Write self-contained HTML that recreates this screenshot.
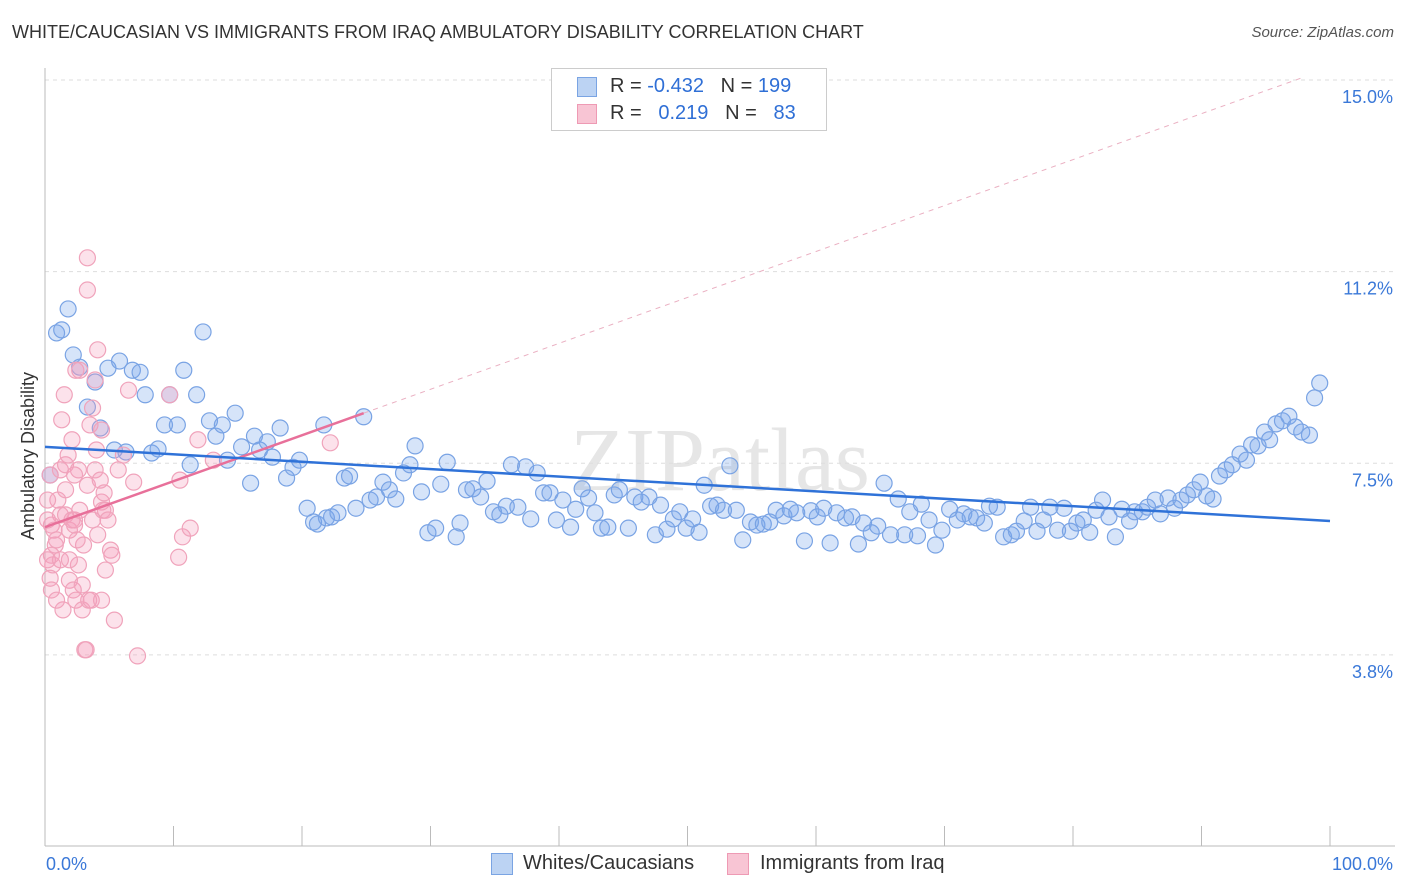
<!DOCTYPE html>
<html><head><meta charset="utf-8"><style>
body{margin:0;background:#fff;font-family:"Liberation Sans",sans-serif;}
#wrap{position:relative;width:1406px;height:892px;overflow:hidden;}
.t{position:absolute;white-space:nowrap;}
</style></head><body>
<div id="wrap">
<div class="t" style="left:12px;top:22px;font-size:18px;color:#333;">WHITE/CAUCASIAN VS IMMIGRANTS FROM IRAQ AMBULATORY DISABILITY CORRELATION CHART</div>
<div class="t" style="right:12px;top:24px;font-size:15px;color:#555;font-style:italic;">Source: ZipAtlas.com</div>
<svg id="svg" width="1406" height="892" style="position:absolute;left:0;top:0"></svg>
<div style="position:absolute;left:551px;top:68px;width:274px;height:61px;border:1px solid #ccc;background:#fff;font-size:20px;">
 <div style="position:absolute;left:25px;top:8px;width:18px;height:18px;background:#bcd3f3;border:1px solid #7aa4e3;"></div>
 <div class="t" style="left:58px;top:6px;color:#333;">R = <span style="color:#2f6fd6">-0.432</span>&nbsp;&nbsp;&nbsp;N = <span style="color:#2f6fd6">199</span></div>
 <div style="position:absolute;left:25px;top:35px;width:18px;height:18px;background:#f8c5d4;border:1px solid #ee9ab4;"></div>
 <div class="t" style="left:58px;top:33px;color:#333;">R = &nbsp;&nbsp;<span style="color:#2f6fd6">0.219</span>&nbsp;&nbsp;&nbsp;N = &nbsp;&nbsp;<span style="color:#2f6fd6">83</span></div>
</div>
<div>
 <div style="position:absolute;left:491px;top:853px;width:20px;height:20px;background:#bcd3f3;border:1px solid #7aa4e3;"></div>
 <div class="t" style="left:523px;top:852px;font-size:20px;color:#333;">Whites/Caucasians</div>
 <div style="position:absolute;left:727px;top:853px;width:20px;height:20px;background:#f8c5d4;border:1px solid #ee9ab4;"></div>
 <div class="t" style="left:760px;top:852px;font-size:20px;color:#333;">Immigrants from Iraq</div>
</div>
</div>
<script>
const yTicks=[15.0,11.25,7.5,3.75];
const yTickLabels=["15.0%","11.2%","7.5%","3.8%"];
const xTickLabels=["0.0%","100.0%"];
const blueX=[0.4,0.9,1.3,1.8,2.2,2.7,3.3,3.9,4.3,4.9,5.4,5.8,6.3,6.8,7.4,7.8,8.3,8.8,9.3,9.7,10.3,10.8,11.3,11.8,12.3,12.8,13.3,13.8,14.2,14.8,15.3,16.0,16.3,16.7,17.3,17.7,18.3,18.8,19.3,19.8,20.4,20.9,21.2,21.9,22.3,22.8,21.7,23.3,23.7,24.2,24.8,25.3,25.8,26.3,26.8,27.3,27.9,28.4,28.8,29.3,29.8,30.4,30.8,31.3,32.0,32.3,32.8,33.3,33.9,34.4,34.9,35.4,35.9,36.3,36.8,37.4,37.8,38.3,38.8,39.3,39.8,40.3,40.9,41.3,41.8,42.3,42.8,43.3,43.8,44.3,44.7,45.4,45.9,46.4,47.0,47.5,47.9,48.4,48.9,49.4,49.9,50.4,50.9,51.3,51.8,52.3,52.8,53.3,53.8,54.3,54.9,55.4,55.9,56.4,56.9,57.5,58.0,58.5,59.1,59.6,60.1,60.6,61.1,61.6,62.3,62.8,63.3,63.7,64.3,64.8,65.3,65.8,66.4,66.9,67.3,67.9,68.2,68.8,69.3,69.8,70.4,71.0,71.5,72.0,72.5,73.1,73.5,74.1,74.6,75.2,75.6,76.2,76.7,77.2,77.7,78.2,78.8,79.3,79.8,80.3,80.8,81.3,81.8,82.3,82.8,83.3,83.8,84.4,84.8,85.4,85.8,86.4,86.8,87.4,87.9,88.4,88.9,89.4,89.9,90.4,90.9,91.4,91.9,92.4,93.0,93.5,93.9,94.4,94.9,95.3,95.8,96.3,96.8,97.3,97.8,98.4,98.8,99.2];
const blueY=[7.27,10.05,10.11,10.52,9.62,9.38,8.60,9.09,8.19,9.36,7.76,9.50,7.72,9.32,9.28,8.84,7.70,7.78,8.25,8.84,8.25,9.32,7.47,8.84,10.07,8.33,8.03,8.25,7.56,8.48,7.82,7.11,8.03,7.76,7.92,7.62,8.19,7.21,7.42,7.56,6.62,6.35,6.31,6.43,6.45,6.53,8.25,7.21,7.25,6.62,8.41,6.78,6.84,7.13,6.98,6.80,7.31,7.47,7.84,6.94,6.14,6.23,7.09,7.52,6.06,6.33,6.98,7.00,6.84,7.15,6.55,6.49,6.66,7.47,6.64,7.43,6.41,7.31,6.92,6.92,6.39,6.78,6.25,6.60,7.00,6.82,6.53,6.23,6.25,6.88,6.98,6.23,6.84,6.74,6.84,6.10,6.68,6.21,6.41,6.55,6.23,6.41,6.15,7.07,6.66,6.68,6.58,7.45,6.58,6.00,6.35,6.29,6.31,6.35,6.58,6.47,6.60,6.53,5.98,6.57,6.45,6.62,5.94,6.53,6.43,6.45,5.92,6.33,6.14,6.27,7.11,6.10,6.80,6.10,6.55,6.08,6.70,6.39,5.90,6.19,6.60,6.39,6.51,6.45,6.43,6.33,6.66,6.64,6.06,6.10,6.17,6.37,6.64,6.17,6.39,6.64,6.19,6.62,6.17,6.33,6.39,6.15,6.58,6.78,6.45,6.06,6.60,6.37,6.55,6.55,6.64,6.78,6.51,6.82,6.62,6.78,6.88,6.98,7.13,6.86,6.80,7.25,7.37,7.47,7.68,7.56,7.86,7.84,8.11,7.96,8.27,8.33,8.42,8.21,8.11,8.05,8.78,9.07];
const pinkX=[0.4,0.5,0.7,0.8,0.5,0.6,0.4,0.5,0.9,1.0,1.2,1.2,1.3,1.4,1.6,1.6,1.8,1.9,1.9,2.1,2.2,2.3,2.4,2.4,2.6,2.6,2.7,2.9,2.9,3.0,3.1,3.2,3.3,3.3,3.3,3.4,3.5,3.7,3.7,3.9,4.0,4.1,4.1,4.3,4.4,4.4,4.5,4.6,4.7,4.9,5.1,5.2,5.4,5.7,6.1,6.5,6.9,7.2,9.7,10.4,10.5,10.7,11.3,11.9,13.1,22.2,0.2,0.2,0.2,0.9,1.2,1.5,1.6,1.9,2.1,2.3,2.3,2.5,2.7,3.6,3.9,4.4,4.7];
const pinkY=[7.27,6.29,6.19,5.90,5.70,5.51,5.25,5.02,6.00,6.78,6.49,7.37,8.35,4.63,6.98,7.47,7.66,5.21,6.19,7.96,5.02,6.39,9.32,4.82,7.37,5.51,9.32,5.12,4.63,5.90,3.85,3.85,7.07,11.52,10.89,4.82,8.25,6.39,8.58,7.37,7.76,9.72,6.10,7.17,6.74,8.15,6.58,6.92,6.58,6.39,5.80,5.70,4.43,7.37,7.66,8.93,7.13,3.73,8.84,5.66,7.17,6.06,6.23,7.96,7.56,7.90,6.39,5.61,6.78,4.82,5.61,8.84,6.49,5.61,6.39,6.29,7.27,6.00,6.58,4.82,9.13,4.82,5.41];
const blueTrend=[7.82,6.37];
const pinkTrend=[6.25,0.0899];
const pinkSolidEnd=24.8;

const NS="http://www.w3.org/2000/svg",svg=document.getElementById('svg');
const X0=45,X1=1330,Y15=80,PPU=51.1;
const sx=v=>X0+(X1-X0)*v/100, sy=v=>Y15+(15-v)*PPU;
function el(t,a){const e=document.createElementNS(NS,t);for(const k in a)e.setAttribute(k,a[k]);svg.appendChild(e);return e;}
// watermark
let w=el('text',{x:720,y:490,'text-anchor':'middle','font-size':90,fill:'#e6e6e6','font-family':'Liberation Serif, serif'});
w.textContent='ZIPatlas';
yTicks.forEach((v,i)=>{
 let g=el('line',{x1:X0,x2:1395,y1:sy(v),y2:sy(v),stroke:'#ddd','stroke-dasharray':'4,4'});
 
 let t=el('text',{x:1393,y:sy(v)+23,'text-anchor':'end','font-size':18,fill:'#3a78d8'});
 t.textContent=yTickLabels[i];
});
let ax=el('line',{x1:X0,x2:X0,y1:68,y2:846,stroke:'#bbb'});
let bx=el('line',{x1:X0,x2:1395,y1:846,y2:846,stroke:'#bbb'});
for(let i=0;i<=10;i++){let tk=el('line',{x1:sx(i*10),x2:sx(i*10),y1:826,y2:846,stroke:'#bbb'});}
[[0,58,'start'],[100,1393,'end']].forEach((d,i)=>{let t=el('text',{x:d[1]-12+ (i?12:0),y:870,'text-anchor':d[2],'font-size':18,fill:'#3a78d8'});t.textContent=xTickLabels[i];});
let yl=el('text',{x:34,y:456,'text-anchor':'middle','font-size':18,fill:'#333',transform:'rotate(-90 34 456)'});yl.textContent='Ambulatory Disability';
blueX.forEach((x,i)=>{let c=el('circle',{cx:sx(x),cy:sy(blueY[i]),r:8,fill:'rgba(120,165,235,0.3)',stroke:'#79a3e4','stroke-width':1.2});});
pinkX.forEach((x,i)=>{let c=el('circle',{cx:sx(x),cy:sy(pinkY[i]),r:8,fill:'rgba(245,160,190,0.3)',stroke:'#f0a3bb','stroke-width':1.2});});
let pd=el('line',{x1:sx(pinkSolidEnd),y1:sy(pinkTrend[0]+pinkTrend[1]*pinkSolidEnd),x2:sx(97.7),y2:sy(pinkTrend[0]+pinkTrend[1]*97.7),stroke:'#eab0c2','stroke-dasharray':'5,5','stroke-width':1});

let ps=el('line',{x1:sx(0),y1:sy(pinkTrend[0]),x2:sx(pinkSolidEnd),y2:sy(pinkTrend[0]+pinkTrend[1]*pinkSolidEnd),stroke:'#e8709a','stroke-width':2.5});

let bt=el('line',{x1:sx(0),y1:sy(blueTrend[0]),x2:sx(100),y2:sy(blueTrend[1]),stroke:'#2f72d8','stroke-width':2.5});

</script>
</body></html>
